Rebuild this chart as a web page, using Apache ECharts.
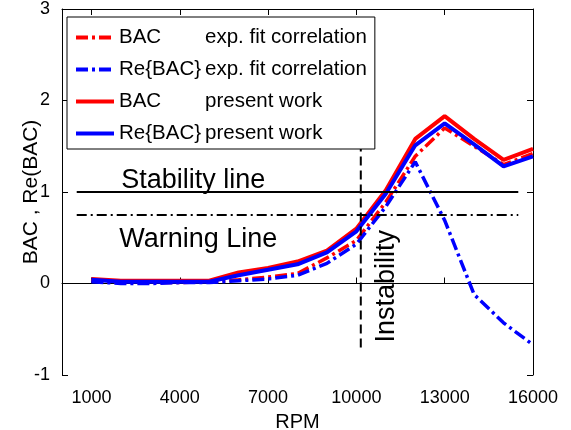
<!DOCTYPE html>
<html>
<head>
<meta charset="utf-8">
<title>BAC vs RPM</title>
<script src="https://cdn.jsdelivr.net/npm/echarts@6/dist/echarts.min.js"></script>
<style>
html, body { margin: 0; padding: 0; background: #fff; }
#main { width: 571px; height: 430px; }
</style>
</head>
<body>
<div id="main"></div>
<script>
// RPM sample points
var rpm = [1000, 2000, 3000, 4000, 5000, 6000, 7000, 8000, 9000, 10000, 11000, 12000, 13000, 14000, 15000, 16000];

// values
var bacFit   = [0.03, 0.01, 0.01, 0.01, 0.02, 0.04, 0.07, 0.11, 0.28, 0.47, 0.89, 1.39, 1.70, 1.50, 1.30, 1.42];
var reBacFit = [0.02, 0.00, 0.00, 0.01, 0.01, 0.03, 0.05, 0.09, 0.22, 0.43, 0.84, 1.33, 0.69, -0.12, -0.43, -0.67];
var bacNow   = [0.05, 0.03, 0.03, 0.03, 0.03, 0.12, 0.17, 0.24, 0.36, 0.60, 1.02, 1.58, 1.83, 1.58, 1.35, 1.47];
var reBacNow = [0.04, 0.02, 0.02, 0.02, 0.02, 0.09, 0.15, 0.21, 0.34, 0.57, 0.98, 1.51, 1.75, 1.52, 1.28, 1.39];

var xTicks = [1000, 4000, 7000, 10000, 13000, 16000];

// reference lines
var stabilityLine = [[500, 1], [15500, 1]];
var warningLine = [[500, 0.75], [15500, 0.75]];
var instabilityLine = [[10150, -0.7], [10150, 1.52]];

// text notes: [text, rpm, value, rotate]
var notes = [
    ['Stability line', 4460, 1.13, 0],
    ['Warning Line', 4630, 0.48, 0],
    ['Instability', 11030, -0.03, 90]
];

var font = 'Liberation Sans, Arial, Helvetica, sans-serif';
var dashDot = [12, 4, 3, 4];
var legendSize = 20.5;

// legend names: label | description
var names = ['BAC|exp. fit correlation', 'Re{BAC}|exp. fit correlation', 'BAC|present work', 'Re{BAC}|present work'];
var dashes = [dashDot, dashDot, 'solid', 'solid'];

var ctx = document.createElement('canvas').getContext('2d');
ctx.font = legendSize + 'px ' + font;

function pairs(ys) {
    return rpm.map(function(x, i) { return [x, ys[i]]; });
}

function curve(name, ys, color, dashed) {
    return {
        name: name,
        type: 'line',
        data: pairs(ys),
        showSymbol: false,
        symbol: 'none',
        silent: true,
        lineStyle: { color: color, width: dashed ? 3.5 : 4, type: dashed ? dashDot : 'solid' },
        itemStyle: { color: color },
        z: dashed ? 2 : 3
    };
}

function refLine(data, type) {
    return {
        type: 'line',
        data: data,
        showSymbol: false,
        symbol: 'none',
        silent: true,
        lineStyle: { color: '#000', width: 2, type: type },
        z: 4
    };
}

var myChart = echarts.init(document.getElementById('main'));

var noteSeries = refLine(stabilityLine, 'solid');
noteSeries.markPoint = {
    symbol: 'circle',
    symbolSize: 0,
    silent: true,
    data: notes.map(function(n) {
        return {
            coord: [n[1], n[2]],
            label: {
                show: true,
                position: 'inside',
                formatter: n[0],
                rotate: n[3],
                color: '#000',
                fontSize: 27,
                fontFamily: font
            }
        };
    })
};

// spacer widths so the second legend column lines up
var rich = {};
names.forEach(function(n) {
    var first = n.split('|')[0];
    rich['s' + first.replace(/[^A-Za-z]/g, '')] = { width: Math.max(4, 86 - ctx.measureText(first).width) };
});

var option = {
    animation: false,
    backgroundColor: '#fff',
    textStyle: { fontFamily: font },
    grid: { left: 62, right: 38, top: 9, bottom: 55, outerBoundsMode: 'none', containLabel: false },
    legend: {
        orient: 'vertical',
        left: 67,
        top: 17,
        data: names.map(function(n, i) {
            return { name: n, lineStyle: { type: dashes[i], width: 4 } };
        }),
        backgroundColor: '#fff',
        borderColor: '#000',
        borderWidth: 1,
        borderRadius: 0,
        padding: [10, 8, 5, 7],
        itemGap: 11,
        itemWidth: 38,
        itemHeight: 14,
        itemTextGap: 4,
        selectedMode: false,
        itemStyle: { opacity: 0 },
        formatter: function(name) {
            var p = name.split('|');
            return p[0] + '{s' + p[0].replace(/[^A-Za-z]/g, '') + '|}' + p[1];
        },
        textStyle: {
            fontSize: legendSize,
            lineHeight: 20,
            color: '#000',
            fontFamily: font,
            rich: rich
        },
        z: 10
    },
    xAxis: [{
        type: 'value',
        min: 0,
        max: 16000,
        name: 'RPM',
        nameLocation: 'middle',
        nameGap: 37,
        nameTextStyle: { fontSize: 20, color: '#000' },
        axisLine: { show: true, lineStyle: { color: '#000', width: 1 } },
        axisTick: { show: true, inside: true, length: 6, customValues: xTicks, lineStyle: { color: '#000' } },
        axisLabel: {
            fontSize: 18, color: '#000', margin: 14, customValues: xTicks,
            formatter: function(v) { return String(v); }
        },
        splitLine: { show: false }
    }, {
        type: 'value',
        position: 'top',
        min: 0,
        max: 16000,
        axisLine: { show: true, onZero: false, lineStyle: { color: '#000', width: 1 } },
        axisTick: { show: true, inside: true, length: 6, customValues: xTicks, lineStyle: { color: '#000' } },
        axisLabel: { show: false },
        splitLine: { show: false }
    }],
    yAxis: [{
        type: 'value',
        min: -1,
        max: 3,
        interval: 1,
        name: 'BAC , Re(BAC)',
        nameLocation: 'middle',
        nameGap: 20,
        nameMoveOverlap: false,
        nameTextStyle: { fontSize: 21, color: '#000' },
        axisLine: { show: true, lineStyle: { color: '#000', width: 1 } },
        axisTick: { show: true, inside: true, length: 6, lineStyle: { color: '#000' } },
        axisLabel: { fontSize: 18, color: '#000', margin: 12 },
        splitLine: { show: false }
    }, {
        type: 'value',
        position: 'right',
        min: -1,
        max: 3,
        interval: 1,
        axisLine: { show: true, onZero: false, lineStyle: { color: '#000', width: 1 } },
        axisTick: { show: true, inside: true, length: 6, lineStyle: { color: '#000' } },
        axisLabel: { show: false },
        splitLine: { show: false }
    }],
    series: [
        curve(names[0], bacFit, '#ff0000', true),
        curve(names[1], reBacFit, '#0000ff', true),
        curve(names[2], bacNow, '#ff0000', false),
        curve(names[3], reBacNow, '#0000ff', false),
        noteSeries,
        refLine(warningLine, [10, 4, 2, 4]),
        refLine(instabilityLine, [9, 5])
    ]
};

myChart.setOption(option);
</script>
</body>
</html>
